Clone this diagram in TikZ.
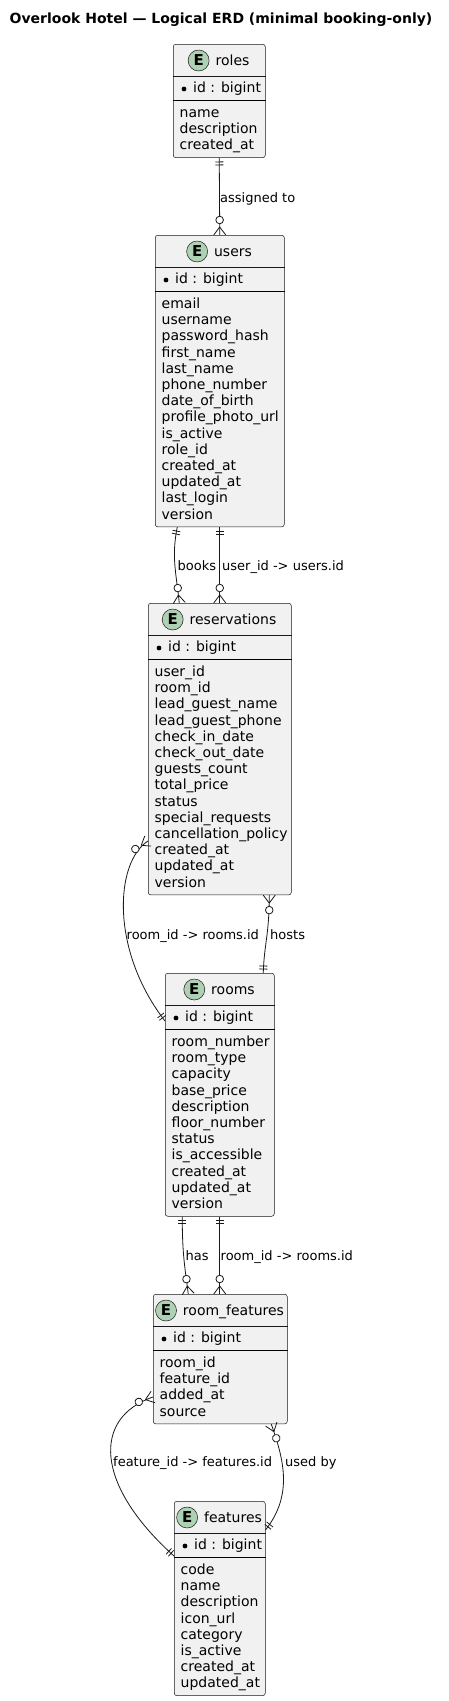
\documentclass[tikz,border=0pt]{standalone}
\usepackage{fontspec}
\setmainfont{DejaVu Sans}
\usetikzlibrary{calc, positioning, decorations.markings}
\definecolor{EntityFill}{HTML}{F1F1F1}
\definecolor{EntityLine}{HTML}{181818}
\definecolor{BadgeGreen}{HTML}{ADD1B2}

\tikzset{
  entity/.style={draw=EntityLine, fill=EntityFill, line width=0.5pt, rounded corners=2.5pt, inner sep=0pt, anchor=north west},
  badge/.style={circle, draw=EntityLine, fill=BadgeGreen, line width=0.5pt, minimum size=21pt, inner sep=0pt, font=\fontsize{15}{15}\selectfont\bfseries},
  ename/.style={inner sep=0pt, anchor=base, font=\fontsize{14}{16}\selectfont},
  field/.style={inner sep=0pt, anchor=base west, font=\fontsize{14}{16}\selectfont},
  lbl/.style={inner sep=0pt, anchor=base west, font=\fontsize{13}{15}\selectfont},
  rel/.style={draw=EntityLine, line width=0.8pt},
  onefrom/.style={postaction={decorate, decoration={markings, mark=at position 0 with {\draw[rel] (4pt,-4pt) -- (4pt,4pt) (7pt,-4pt) -- (7pt,4pt);}}}},
  oneto/.style={postaction={decorate, decoration={markings, mark=at position 0.9999 with {\draw[rel] (-4pt,-4pt) -- (-4pt,4pt) (-7pt,-4pt) -- (-7pt,4pt);}}}},
  manyfrom/.style={postaction={decorate, decoration={markings, mark=at position 0 with {\draw[rel] (8pt,0pt) -- (0pt,6pt) (8pt,0pt) -- (0pt,-6pt); \draw[rel, fill=white] (15pt,0pt) circle (3.8pt);}}}},
  manyto/.style={postaction={decorate, decoration={markings, mark=at position 0.9999 with {\draw[rel] (-8pt,0pt) -- (0pt,6pt) (-8pt,0pt) -- (0pt,-6pt); \draw[rel, fill=white] (-15pt,0pt) circle (3.8pt);}}}}
}

\begin{document}
\begin{tikzpicture}[x=1pt, y=-1pt]
    % Fondo y marco
    \fill[white] (0,0) rectangle (449,1701);
    \useasboundingbox (0,0) rectangle (449,1701);

    % Titulo
    \node[anchor=base, inner sep=0pt, font=\fontsize{14}{16}\selectfont\bfseries] (title) at (221,23)
        {Overlook Hotel — Logical ERD (minimal booking-only)};

    % Entidades
    \foreach \nm/\ttl/\L/\T/\W/\n/\flds in {
        roles/roles/173/44/92/3/{name,description,created\_at},
        users/users/155/235/129/14/{email,username,password\_hash,first\_name,last\_name,phone\_number,date\_of\_birth,profile\_photo\_url,is\_active,role\_id,created\_at,updated\_at,last\_login,version},
        reservations/reservations/148/603/143/14/{user\_id,room\_id,lead\_guest\_name,lead\_guest\_phone,check\_in\_date,check\_out\_date,guests\_count,total\_price,status,special\_requests,cancellation\_policy,created\_at,updated\_at,version},
        rooms/rooms/165/973/109/11/{room\_number,room\_type,capacity,base\_price,description,floor\_number,status,is\_accessible,created\_at,updated\_at,version},
        roomfeatures/room\_features/153/1294/134/4/{room\_id,feature\_id,added\_at,source},
        features/features/174/1501/91/8/{code,name,description,icon\_url,category,is\_active,created\_at,updated\_at}} {
        \pgfmathsetmacro\H{56+17.5+16.2*(\n-1)+7.5}
        \node[entity, minimum width=\W pt, minimum height=\H pt] (\nm) at (\L,\T) {};
        \draw[EntityLine, line width=0.5pt] ([yshift=-32pt]\nm.north west) -- ([yshift=-32pt]\nm.north east);
        \draw[black, line width=0.9pt] ([yshift=-56pt]\nm.north west) -- ([yshift=-56pt]\nm.north east);
        \node[ename] (\nm-hd) at (\L+\W/2+13.5, \T+21.5) {\ttl};
        \node[badge, anchor=east] (\nm-e) at ($(\nm-hd.base west)+(-6,-5)$) {E};
        \fill[black] (\L+11, \T+45) circle (2.4pt);
        \node[field] (\nm-id) at (\L+20, \T+48.5) {id : bigint};
        \foreach \f [count=\i] in \flds
            \node[field] (\nm-f\i) at (\L+6.5, \T+73.5+16.2*\i-16.2) {\f};
    }

    % Relaciones
    \draw[rel, onefrom, manyto] (roles.south) -- (users.north);
    \node[lbl] (assign-lbl) at (220,202) {assigned to};

    \draw[rel, onefrom, manyto] ([xshift=-42.5pt]users.south) .. controls +(-6,30) and +(-3,-30) .. ([xshift=-40.5pt]reservations.north);
    \draw[rel, onefrom, manyto] (users.south) -- (reservations.north);
    \node[lbl] (books-lbl) at (177.5,570) {books};
    \node[lbl] (userid-lbl) at (222,570) {user\_id -> users.id};

    \draw[rel, manyfrom, oneto] ([yshift=-238pt]reservations.north west) .. controls (115,862) and (110,950) .. ([yshift=-48pt]rooms.north west);
    \draw[rel, manyfrom, oneto] ([xshift=49.5pt]reservations.south) .. controls +(0,40) and +(1,-30) .. ([xshift=43.5pt]rooms.north);
    \node[lbl] (roomid-lbl) at (126.5,939) {room\_id -> rooms.id};
    \node[lbl] (hosts-lbl) at (270,939) {hosts};

    \draw[rel, onefrom, manyto] ([xshift=-37.5pt]rooms.south) .. controls +(0,40) and +(-3,-25) .. ([xshift=-32pt]roomfeatures.north);
    \draw[rel, onefrom, manyto] (rooms.south) -- (rooms.south |- roomfeatures.north);
    \node[lbl] (has-lbl) at (185.5,1260) {has};
    \node[lbl] (rfroom-lbl) at (220.5,1260) {room\_id -> rooms.id};

    \draw[rel, manyfrom, oneto] ([yshift=-103pt]roomfeatures.north west) .. controls (92,1418) and (95,1485) .. ([yshift=-55pt]features.north west);
    \draw[rel, manyfrom, oneto] ([xshift=51pt]roomfeatures.south) .. controls (284,1460) and (293,1495) .. ([yshift=-29pt]features.north east);
    \node[lbl] (featid-lbl) at (113,1466.5) {feature\_id -> features.id};
    \node[lbl] (usedby-lbl) at (285,1466.5) {used by};
\end{tikzpicture}
\end{document}
